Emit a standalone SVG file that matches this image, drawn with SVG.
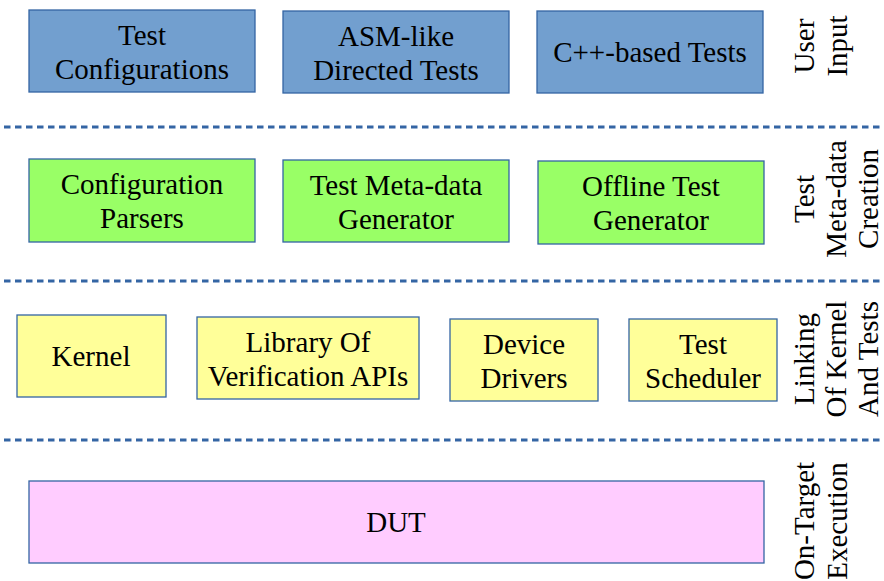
<svg xmlns="http://www.w3.org/2000/svg" width="884" height="581" viewBox="0 0 884 581">
<style>
text{font-family:"Liberation Serif","Times New Roman",serif;font-size:29px;fill:#000;text-anchor:middle}
.b{fill:#729fcf;stroke:#3465a4;stroke-width:1.3}
.g{fill:#99ff66;stroke:#3465a4;stroke-width:1.3}
.y{fill:#ffff99;stroke:#3465a4;stroke-width:1.3}
.p{fill:#ffccff;stroke:#3465a4;stroke-width:1.3}
.d{stroke:#3465a4;stroke-width:3;stroke-dasharray:6.5 4.5;fill:none}
</style>
<rect width="884" height="581" fill="#fff"/>
<g id="separators">
<line class="d" x1="4" y1="127" x2="884" y2="127"/>
<line class="d" x1="4" y1="281" x2="884" y2="281"/>
<line class="d" x1="4" y1="440" x2="884" y2="440"/>
</g>
<g id="n-testconfig"><rect class="b" x="29" y="10" width="226" height="82"/><text x="142" y="45">Test</text><text x="142" y="79">Configurations</text></g>
<g id="n-asm"><rect class="b" x="283" y="11" width="226" height="82"/><text x="396" y="46">ASM-like</text><text x="396" y="80">Directed Tests</text></g>
<g id="n-cpp"><rect class="b" x="537" y="11" width="226" height="82"/><text x="650" y="62">C++-based Tests</text></g>
<g id="n-parsers"><rect class="g" x="29" y="159" width="226" height="83"/><text x="142" y="194">Configuration</text><text x="142" y="228">Parsers</text></g>
<g id="n-metagen"><rect class="g" x="283" y="160" width="226" height="82"/><text x="396" y="195">Test Meta-data</text><text x="396" y="229">Generator</text></g>
<g id="n-offline"><rect class="g" x="538" y="161" width="226" height="83"/><text x="651" y="196">Offline Test</text><text x="651" y="230">Generator</text></g>
<g id="n-kernel"><rect class="y" x="17" y="315" width="149" height="82"/><text x="91" y="366">Kernel</text></g>
<g id="n-library"><rect class="y" x="197" y="317" width="222" height="82"/><text x="308" y="352">Library Of</text><text x="308" y="386">Verification APIs</text></g>
<g id="n-drivers"><rect class="y" x="450" y="319" width="148" height="82"/><text x="524" y="354">Device</text><text x="524" y="388">Drivers</text></g>
<g id="n-scheduler"><rect class="y" x="629" y="319" width="148" height="82"/><text x="703" y="354">Test</text><text x="703" y="388">Scheduler</text></g>
<g id="n-dut"><rect class="p" x="29" y="481" width="735" height="82"/><text x="396" y="532">DUT</text></g>
<g id="labels">
<text transform="translate(814,46) rotate(-90)">User</text>
<text transform="translate(847,46) rotate(-90)">Input</text>
<text transform="translate(814,199) rotate(-90)">Test</text>
<text transform="translate(846,199) rotate(-90)">Meta-data</text>
<text transform="translate(878,199) rotate(-90)">Creation</text>
<text transform="translate(814,359) rotate(-90)">Linking</text>
<text transform="translate(846,359) rotate(-90)">Of Kernel</text>
<text transform="translate(878,359) rotate(-90)">And Tests</text>
<text transform="translate(814,521) rotate(-90)">On-Target</text>
<text transform="translate(847,521) rotate(-90)">Execution</text>
</g>
</svg>
